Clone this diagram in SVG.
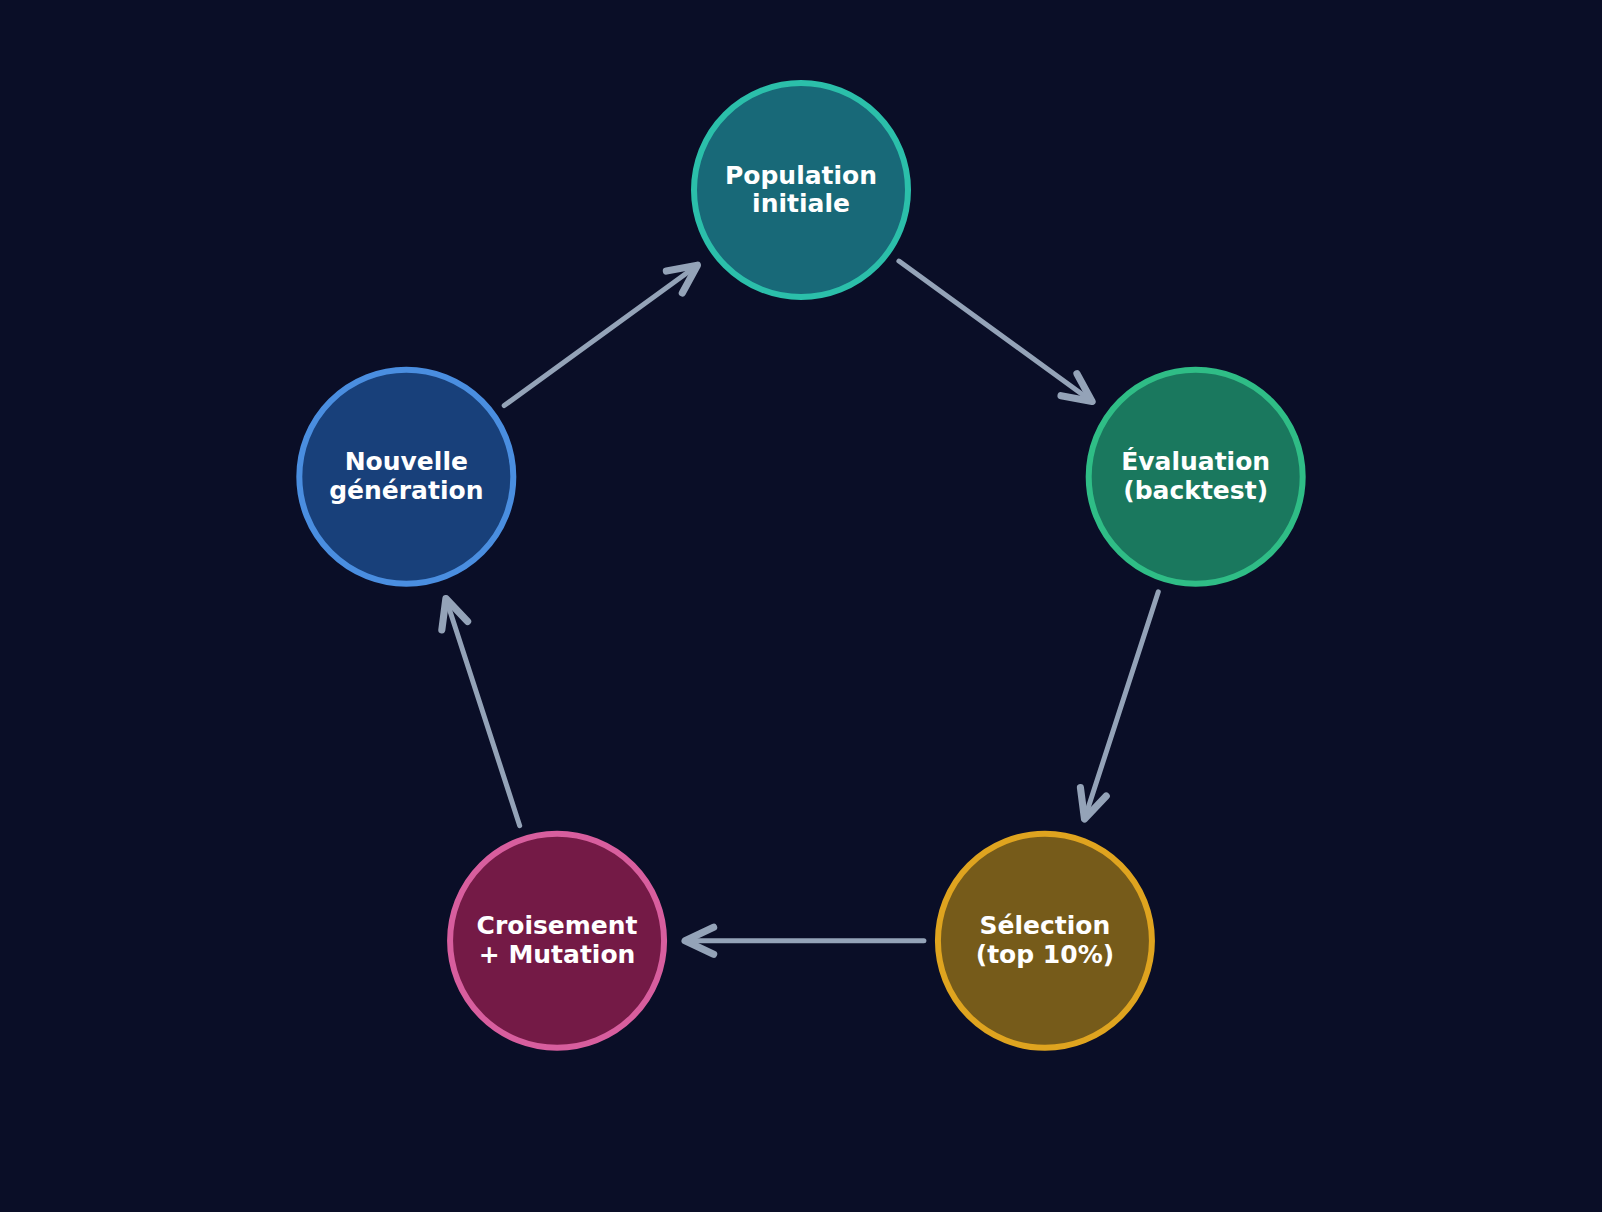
<svg xmlns="http://www.w3.org/2000/svg" width="1602" height="1212" viewBox="0 0 1602 1212">
<style>
.node circle{stroke-width:6}
.node text{font-family:"DejaVu Sans",sans-serif;font-weight:bold;font-size:25px;fill:#ffffff;text-anchor:middle}
.conn line{stroke:#94a3b8;stroke-width:5;stroke-linecap:round;fill:none}
</style>
<defs>
<marker id="arr" markerUnits="userSpaceOnUse" orient="auto" refX="0" refY="0" markerWidth="40" markerHeight="40" viewBox="-24 -14 28 28" overflow="visible">
<path d="M-20,-9.5 L0,0 L-20,9.5" fill="none" stroke="#94a3b8" stroke-width="5" stroke-linecap="round" stroke-linejoin="round"/>
</marker>
</defs>
<rect width="1602" height="1212" fill="#0a0e27"/>
<g id="connectors" class="conn">
<line x1="898.9" y1="261.1" x2="1092.1" y2="401.5" marker-end="url(#arr)"/>
<line x1="1158.3" y1="591.8" x2="1084.5" y2="819.0" marker-end="url(#arr)"/>
<line x1="923.9" y1="940.74" x2="685.07" y2="940.74" marker-end="url(#arr)"/>
<line x1="519.7" y1="825.7" x2="445.9" y2="598.5" marker-end="url(#arr)"/>
<line x1="504.2" y1="405.6" x2="697.45" y2="265.2" marker-end="url(#arr)"/>
</g>
<g id="node-population" class="node">
<circle cx="801" cy="190" r="107" fill="#186978" stroke="#2bbfaa"/>
<text x="801" y="183.5">Population</text>
<text x="801" y="211.8">initiale</text>
</g>
<g id="node-evaluation" class="node">
<circle cx="1195.69" cy="476.76" r="107" fill="#1a785e" stroke="#2fbd86"/>
<text x="1195.69" y="470.2">Évaluation</text>
<text x="1195.69" y="498.5">(backtest)</text>
</g>
<g id="node-selection" class="node">
<circle cx="1044.93" cy="940.74" r="107" fill="#765b1a" stroke="#dfa41f"/>
<text x="1044.93" y="934.2">Sélection</text>
<text x="1044.93" y="962.5">(top 10%)</text>
</g>
<g id="node-croisement" class="node">
<circle cx="557.07" cy="940.74" r="107" fill="#741a46" stroke="#d85e9e"/>
<text x="557.07" y="934.2">Croisement</text>
<text x="557.07" y="962.5">+ Mutation</text>
</g>
<g id="node-nouvelle" class="node">
<circle cx="406.31" cy="476.76" r="107" fill="#18407a" stroke="#4a8ee0"/>
<text x="406.31" y="470.2">Nouvelle</text>
<text x="406.31" y="498.5">génération</text>
</g>
</svg>
